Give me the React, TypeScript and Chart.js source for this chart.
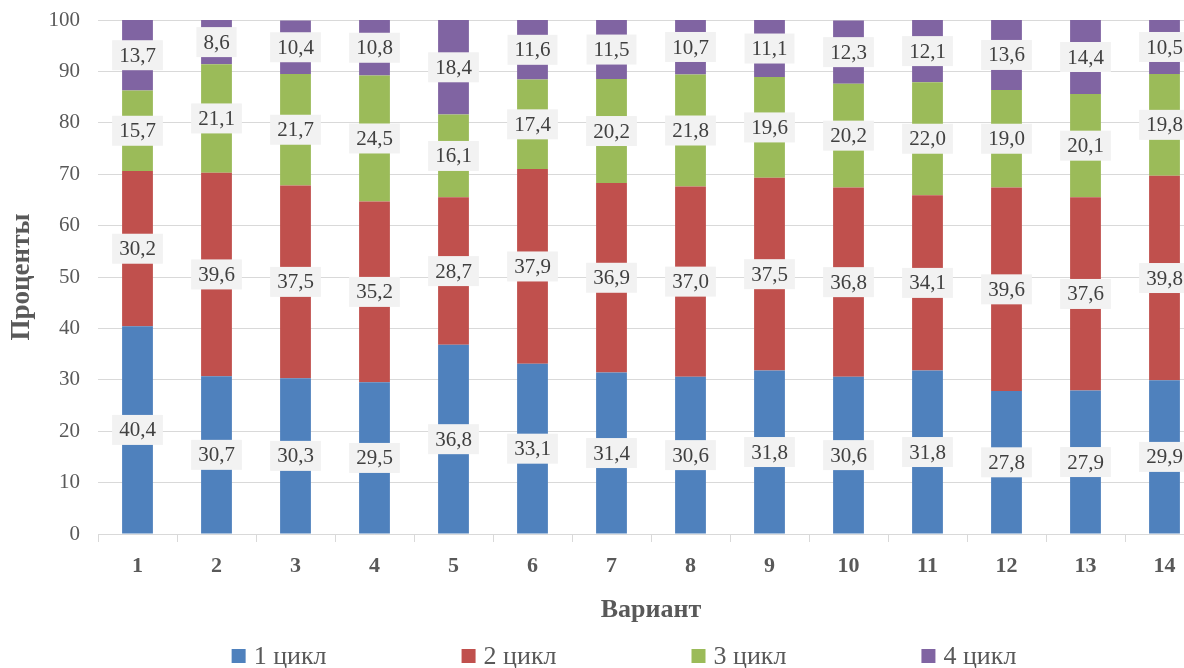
import React, { useEffect, useRef } from 'react';
import { Chart, registerables } from 'chart.js';

Chart.register(...registerables);

const categories = ['1', '2', '3', '4', '5', '6', '7', '8', '9', '10', '11', '12', '13', '14'];
const cycle1 = [40.4, 30.7, 30.3, 29.5, 36.8, 33.1, 31.4, 30.6, 31.8, 30.6, 31.8, 27.8, 27.9, 29.9];
const cycle2 = [30.2, 39.6, 37.5, 35.2, 28.7, 37.9, 36.9, 37.0, 37.5, 36.8, 34.1, 39.6, 37.6, 39.8];
const cycle3 = [15.7, 21.1, 21.7, 24.5, 16.1, 17.4, 20.2, 21.8, 19.6, 20.2, 22.0, 19.0, 20.1, 19.8];
const cycle4 = [13.7, 8.6, 10.4, 10.8, 18.4, 11.6, 11.5, 10.7, 11.1, 12.3, 12.1, 13.6, 14.4, 10.5];
const seriesNames = ['1 цикл', '2 цикл', '3 цикл', '4 цикл'];
const seriesColors = ['#4F81BD', '#C0504D', '#9BBB59', '#8064A2'];
const yMin = 0;
const yMax = 100;
const yStep = 10;
const xTitle = 'Вариант';
const yTitle = 'Проценты';

const FONT = "'Liberation Serif', 'Times New Roman', serif";
const TEXT = '#595959';

const segmentLabels = {
  id: 'segmentLabels',
  afterDatasetsDraw(chart: any) {
    const ctx = chart.ctx;
    ctx.save();
    ctx.font = `21px ${FONT}`;
    ctx.textAlign = 'center';
    ctx.textBaseline = 'middle';
    chart.data.datasets.forEach((ds: any, di: number) => {
      const meta = chart.getDatasetMeta(di);
      meta.data.forEach((bar: any, i: number) => {
        const v = ds.data[i] as number;
        const text = v.toFixed(1).replace('.', ',');
        const cy = (bar.y + bar.base) / 2;
        const w = ctx.measureText(text).width + 14;
        const h = 30;
        ctx.fillStyle = '#F2F2F2';
        ctx.fillRect(bar.x - w / 2, cy - h / 2, w, h);
        ctx.fillStyle = '#404040';
        ctx.fillText(text, bar.x, cy + 1);
      });
    });
    ctx.restore();
  },
};

const bottomLegend = {
  id: 'bottomLegend',
  afterDraw(chart: any) {
    const ctx = chart.ctx;
    const box = 14;
    const gapText = 8;
    const gapItem = 135;
    ctx.save();
    ctx.font = `26px ${FONT}`;
    ctx.textBaseline = 'middle';
    ctx.textAlign = 'left';
    const items = chart.data.datasets.map((ds: any) => ({
      text: ds.label,
      color: ds.backgroundColor,
      w: box + gapText + ctx.measureText(ds.label).width,
    }));
    const total = items.reduce((s: number, it: any) => s + it.w, 0) + gapItem * (items.length - 1);
    let x = chart.width / 2 - total / 2;
    const y = chart.height - 12;
    items.forEach((it: any) => {
      ctx.fillStyle = it.color;
      ctx.fillRect(x, y - box / 2, box, box);
      ctx.fillStyle = TEXT;
      ctx.fillText(it.text, x + box + gapText, y + 1);
      x += it.w + gapItem;
    });
    ctx.restore();
  },
};

export default function App() {
  const canvasRef = useRef<HTMLCanvasElement | null>(null);

  useEffect(() => {
    if (!canvasRef.current) return;
    const series = [cycle1, cycle2, cycle3, cycle4];
    const chart = new Chart(canvasRef.current, {
      type: 'bar',
      data: {
        labels: categories,
        datasets: series.map((d, i) => ({
          label: seriesNames[i],
          data: d,
          backgroundColor: seriesColors[i],
          borderWidth: 0,
          barPercentage: 0.39,
          categoryPercentage: 1,
        })),
      },
      options: {
        responsive: false,
        animation: false,
        devicePixelRatio: 1,
        layout: { padding: { top: 20, right: 44, bottom: 40, left: 0 } },
        plugins: {
          legend: { display: false },
          tooltip: { enabled: false },
        },
        scales: {
          x: {
            stacked: true,
            offset: true,
            afterFit: (scale: any) => { scale.height = 94; },
            grid: {
              offset: true,
              drawOnChartArea: false,
              drawTicks: true,
              tickLength: 8,
              color: '#D9D9D9',
            },
            border: { display: true, color: '#D9D9D9' },
            ticks: {
              padding: 11,
              color: TEXT,
              font: { family: FONT, size: 22, weight: 'bold' },
              maxRotation: 0,
            },
            title: {
              display: true,
              text: xTitle,
              color: TEXT,
              font: { family: FONT, size: 26, weight: 'bold' },
              padding: { top: 0, bottom: 2 },
            },
          },
          y: {
            stacked: true,
            min: yMin,
            max: yMax,
            afterFit: (scale: any) => {
              scale.width = 98;
              scale.paddingTop = 0;
              scale.paddingBottom = 0;
            },
            grid: { color: '#D9D9D9', drawTicks: false },
            border: { display: false },
            ticks: {
              stepSize: yStep,
              padding: 18,
              color: TEXT,
              font: { family: FONT, size: 21 },
            },
            title: {
              display: true,
              text: yTitle,
              color: TEXT,
              font: { family: FONT, size: 27, weight: 'bold' },
              padding: { top: 6, bottom: 0 },
            },
          },
        },
      },
      plugins: [segmentLabels, bottomLegend],
    });
    return () => chart.destroy();
  }, []);

  return (
    <div
      style={{
        position: 'fixed',
        left: 0,
        top: 0,
        width: 1184,
        height: 668,
        overflow: 'hidden',
        background: '#FFFFFF',
      }}
    >
      <canvas ref={canvasRef} width={1248} height={668} style={{ width: 1248, height: 668, display: 'block' }} />
    </div>
  );
}
